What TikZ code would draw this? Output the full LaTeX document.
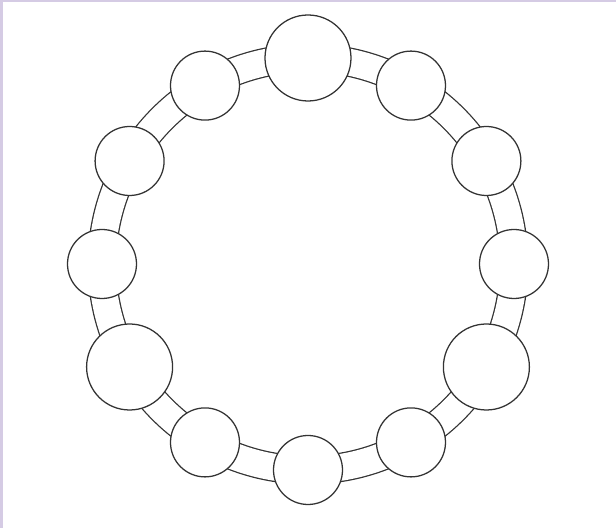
\documentclass[tikz,border=0pt]{standalone}
\usepackage{xcolor}
\usepackage{tikz}
\usetikzlibrary{backgrounds}
\definecolor{lavender}{RGB}{213,203,228}

\begin{document}
\begin{tikzpicture}[
    bead/.style={draw=black!80, line width=0.9pt, circle, fill=white, minimum size=1.725cm, inner sep=0pt},
    bigbead/.style={bead, minimum size=2.15cm},
    band/.style={draw=black!80, line width=0.9pt, double=white, double distance=0.67cm, bend right=15, looseness=0.87}
]
\useasboundingbox (-7.7,-6.6) rectangle (7.7,6.6);
\fill[lavender] (-7.7,-6.6) rectangle (-7.625,6.6);
\fill[lavender] (-7.7,6.55) rectangle (7.7,6.6);

\node[bead] (b0) at (0:5.15) {};
\node[bead] (b30) at (30:5.15) {};
\node[bead] (b60) at (60:5.15) {};
\node[bigbead] (b90) at (90:5.15) {};
\node[bead] (b120) at (120:5.15) {};
\node[bead] (b150) at (150:5.15) {};
\node[bead] (b180) at (180:5.15) {};
\node[bigbead] (b210) at (210:5.15) {};
\node[bead] (b240) at (240:5.15) {};
\node[bead] (b270) at (270:5.15) {};
\node[bead] (b300) at (300:5.15) {};
\node[bigbead] (b330) at (330:5.15) {};

\begin{scope}[on background layer]
\draw[band] (b0.center) to (b30.center);
\draw[band] (b30.center) to (b60.center);
\draw[band] (b60.center) to (b90.center);
\draw[band] (b90.center) to (b120.center);
\draw[band] (b120.center) to (b150.center);
\draw[band] (b150.center) to (b180.center);
\draw[band] (b180.center) to (b210.center);
\draw[band] (b210.center) to (b240.center);
\draw[band] (b240.center) to (b270.center);
\draw[band] (b270.center) to (b300.center);
\draw[band] (b300.center) to (b330.center);
\draw[band] (b330.center) to (b0.center);
\end{scope}
\end{tikzpicture}
\end{document}
